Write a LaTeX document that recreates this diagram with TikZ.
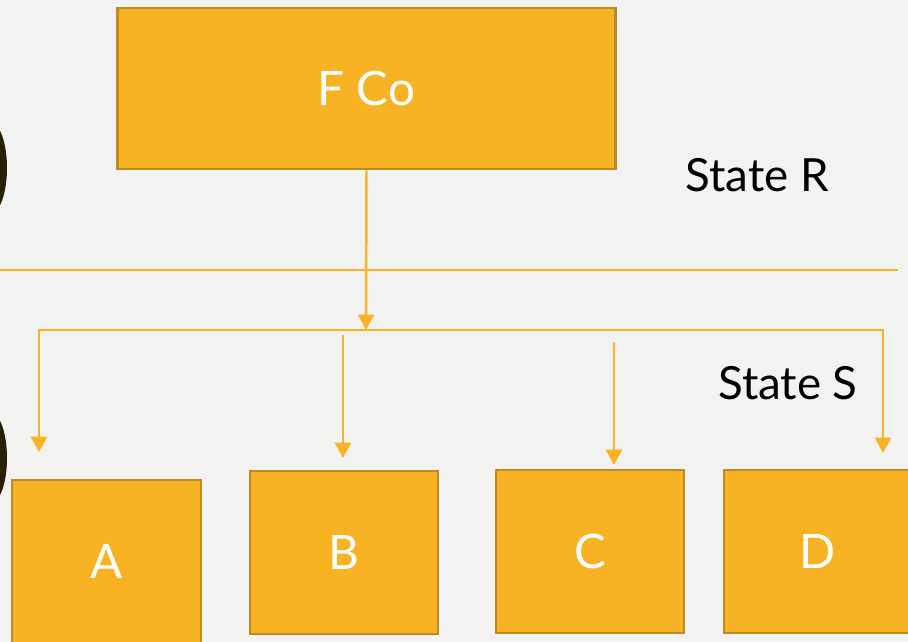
\documentclass[tikz,border=0pt]{standalone}
\usepackage{fontspec}
\setmainfont{Lato}
\usetikzlibrary{arrows.meta}

\definecolor{bgcol}{HTML}{F2F2F1}
\definecolor{boxfill}{HTML}{F7B324}
\definecolor{boxline}{HTML}{BE8A22}
\definecolor{linkcol}{HTML}{F7B324}
\definecolor{curvecol}{HTML}{2A1E06}

\tikzset{
  entity/.style={draw=boxline, fill=boxfill, line width=0.8pt,
    text=white, font=\fontsize{13.5}{16}\selectfont, inner sep=0pt},
  link/.style={draw=linkcol, line width=0.7pt},
  tip/.style={-{Triangle[width=4.6pt,length=4.4pt]}},
  statelabel/.style={font=\fontsize{13}{16}\selectfont, text=black}
}

\begin{document}
\begin{tikzpicture}[x=0.01cm,y=-0.01cm]
  % background and frame
  \useasboundingbox (0,0) rectangle (908,642);
  \clip (0,0) rectangle (908,642);
  \fill[bgcol] (0,0) rectangle (908,642);

  % dark curves at the left edge
  \fill[curvecol] (-10,168) ellipse (17 and 46);
  \fill[curvecol] (-10,458) ellipse (17 and 46);

  % parent company
  \node[entity, minimum width=4.97cm, minimum height=1.61cm] (fco) at (366.5,88.5) {F Co};

  % divider between the two states
  \coordinate (divl) at (0,270);
  \coordinate (divr) at (898,270);
  \draw[linkcol, line width=0.45pt] (divl) -- (divr);

  \node[statelabel] (stater) at (757,175) {State R};
  \node[statelabel] (states) at (788,383) {State S};

  % subsidiaries
  \node[entity, minimum width=1.89cm, minimum height=1.63cm] (a) at (106.5,561.5) {A};
  \node[entity, minimum width=1.88cm, minimum height=1.63cm] (b) at (344,552.5) {B};
  \node[entity, minimum width=1.88cm, minimum height=1.63cm] (c) at (590,551.5) {C};
  \node[entity, minimum width=1.88cm, minimum height=1.63cm] (d) at (818,551.5) {D};

  % connectors
  \coordinate (join) at (366,330);
  \coordinate (joinl) at (39,330);
  \coordinate (joinr) at (883,330);
  \coordinate (ina) at (39,452);
  \coordinate (ind) at (883,453);
  \coordinate (topb) at (343,335);
  \coordinate (inb) at (343,458);
  \coordinate (topc) at (614,342);
  \coordinate (inc) at (614,465);

  \draw[link, tip] (fco.south) -- (join);
  \draw[link, {Triangle[width=4.6pt,length=4.4pt]}-{Triangle[width=4.6pt,length=4.4pt]}]
    (ina) -- (joinl) -- (joinr) -- (ind);
  \draw[link, tip] (topb) -- (inb);
  \draw[link, tip] (topc) -- (inc);
\end{tikzpicture}
\end{document}
